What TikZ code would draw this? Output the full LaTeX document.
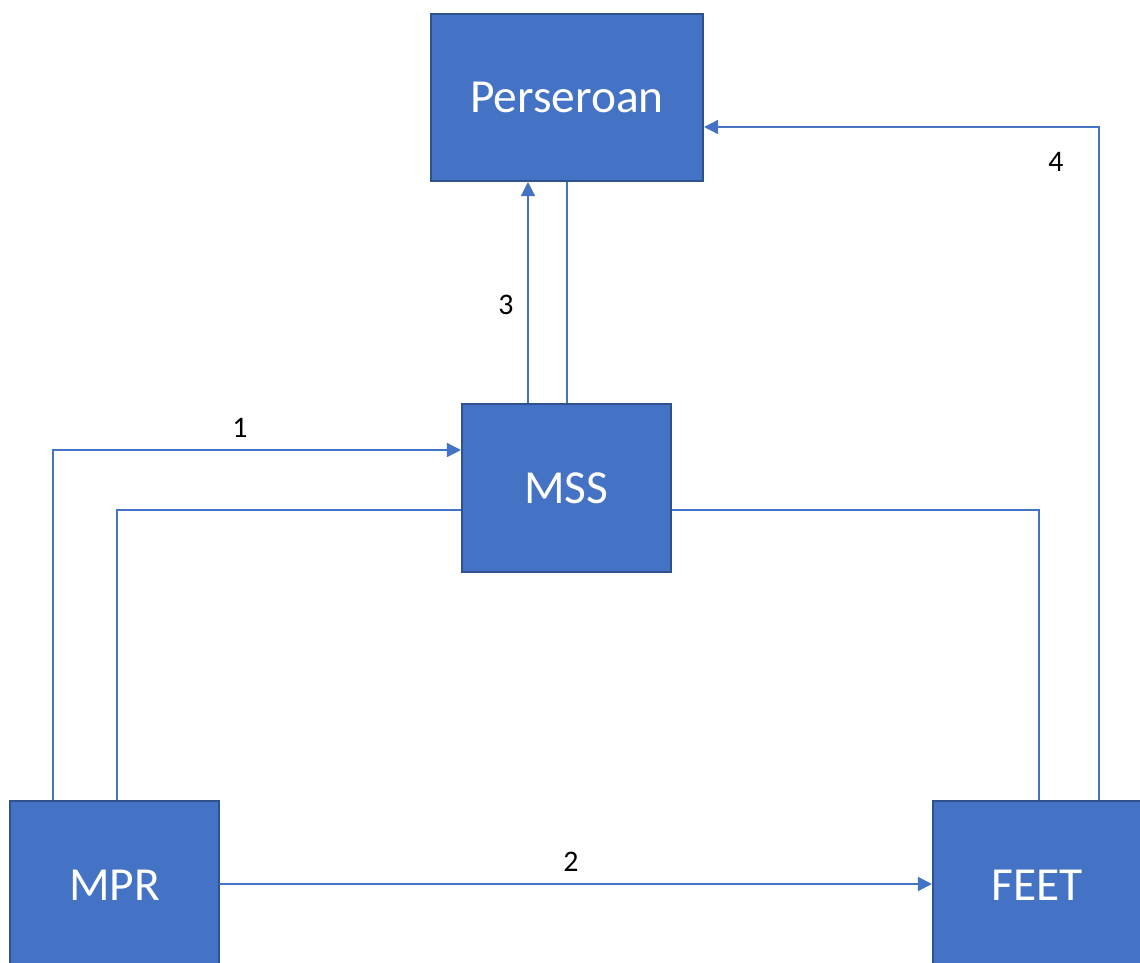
\documentclass[tikz,border=0pt]{standalone}
\usepackage{fontspec}
\setmainfont{Carlito}
\usetikzlibrary{arrows.meta}
\definecolor{boxblue}{HTML}{4472C4}
\definecolor{boxedge}{HTML}{2F528F}
\tikzset{
  unit/.style={draw=boxedge, line width=1.2pt, fill=boxblue, text=white,
    font=\fontsize{27}{32}\selectfont, minimum width=4.18cm, minimum height=3.36cm},
  link/.style={draw=boxblue, line width=0.8pt},
  arr/.style={link, -{Triangle[length=8pt,width=8pt]}},
  lbl/.style={font=\fontsize{17}{20}\selectfont}
}
\begin{document}
\begin{tikzpicture}[x=0.02cm,y=-0.02cm]
  \useasboundingbox (0,0) rectangle (1140,963);
  % boxes
  \node[unit, minimum width=5.44cm, minimum height=3.34cm] (pers) at (567,97.5) {Perseroan};
  \node[unit] (mss) at (566.5,488) {MSS};
  \node[unit] (mpr) at (114.5,885) {MPR};
  \node[unit] (feet) at (1037.5,885) {FEET};
  % links
  \draw[arr] (mpr.north -| 53,0) |- (mss.west |- 0,450);
  \draw[link] (mpr.north -| 117,0) |- (mss.west |- 0,510);
  \draw[link] (mss.east |- 0,510) -| (feet.north -| 1039,0);
  \draw[arr] (mpr.east -| 219,0) ++(0,-1) -- (feet.west |- 0,884);
  \draw[arr] (mss.north -| 528,0) -- (pers.south -| 528,0);
  \draw[link] (mss.north -| 567,0) -- (pers.south -| 567,0);
  \draw[arr] (feet.north -| 1099,0) |- (pers.east |- 0,127);
  % labels
  \node[lbl] (n1) at (240,428) {1};
  \node[lbl] (n2) at (571,862) {2};
  \node[lbl] (n3) at (506,305) {3};
  \node[lbl] (n4) at (1056,162) {4};
\end{tikzpicture}
\end{document}
